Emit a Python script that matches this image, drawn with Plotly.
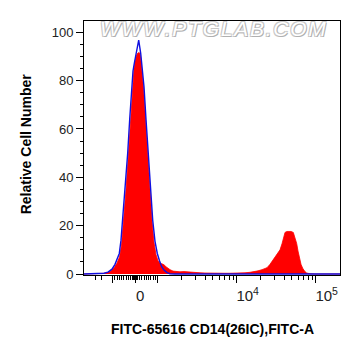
import math
import plotly.graph_objects as go

# ---------------- data (x in display channels of the biexponential scale, 0..256) ----------------
sample_channel = [0, 16, 21, 26, 30, 33, 35.5, 37.5, 39.5, 42, 44.5, 46.5, 48.5, 50, 51, 52.5, 54, 55.5,
                  56.5, 58, 59.5, 61.5, 63.5, 66, 68, 70, 72, 74, 76, 78, 80, 82, 84, 86, 89, 92, 96,
                  100, 104, 108, 112, 116, 121, 126, 131, 136, 141, 146, 151, 156, 161, 166, 170, 174,
                  178, 183, 186, 189, 192, 194, 196, 198, 199.5, 201, 203, 205, 207, 209.3, 211, 212.7,
                  214, 215.3, 217, 218.7, 220.5, 222.7, 226, 231, 256]
sample_count = [0, 0, 0.3, 1, 2.5, 4.5, 7, 12, 21, 35, 50, 64, 77, 85, 88, 90.5, 91.5, 91.5,
                90, 84, 77, 64, 50, 34, 22, 13, 8, 5.5, 4.4, 4.2, 3.8, 3, 2.2, 1.8, 1.2, 1.0, 0.9,
                1.0, 0.8, 0.9, 0.7, 0.5, 0.4, 0.3, 0.3, 0.3, 0.3, 0.3, 0.3, 0.4, 0.5, 0.7, 0.9, 1.3,
                1.8, 2.6, 4, 5.8, 7.3, 8.6, 10, 12.5, 14.5, 17.2, 17.6, 17.7, 17.6, 17.2, 15, 12.6,
                9.5, 6.5, 4, 2.4, 1.2, 0.4, 0.1, 0, 0]

control_channel = [0, 16, 20, 24, 28, 31, 33, 35.3, 37, 38.7, 41, 43.7, 45.7, 47.7, 49, 50.3, 52.5,
                   54.7, 56.7, 58.3, 60, 62, 64.3, 66.5, 68.7, 71, 73.3, 75.5, 77.7, 80, 83, 86, 91, 256]
control_count = [0, 0, 0.3, 0.8, 2, 4, 6, 8.5, 14, 22.3, 35, 50, 64, 77.5, 84, 87.2, 92,
                 96.8, 91.3, 85, 77.5, 64, 50, 36, 22.3, 13.5, 8.5, 5.5, 3, 1.6, 0.6, 0.1, 0, 0]

y_ticks = [0, 20, 40, 60, 80, 100]
x_major_values = [-1000, 0, 1000, 10000, 100000]
x_label_values = [0, 10000, 100000]
x_label_text = ["0", "10<sup>4</sup>", "10<sup>5</sup>"]

x_title = "FITC-65616 CD14(26IC),FITC-A"
y_title = "Relative Cell Number"
watermark = "WWW.PTGLAB.COM"

# ---------------- biexponential display scale ----------------
ZERO, LIN, DEC, NEGDEC = 51.2, 0.0225, 79.0, 36.0


def disp(v):
    if abs(v) <= 1000:
        return ZERO + v * LIN
    if v > 0:
        return ZERO + 1000 * LIN + DEC * math.log10(v / 1000)
    return ZERO - 1000 * LIN - NEGDEC * math.log10(-v / 1000)


major_pos = [disp(v) for v in x_major_values]
minor_vals = [k * 100 for k in range(-9, 10) if k != 0] + [-75, -50, -25, 25, 50, 75]
minor_vals += [-2000, -3000]
minor_vals += [m * 10 ** e for e in (3, 4) for m in range(2, 10)]
minor_pos = [disp(v) for v in minor_vals]
label_pos = [disp(0) + 5, disp(1e4) + 11, disp(1e5) + 11]

FONT = "Arial, Liberation Sans, sans-serif"
spaced_watermark = "\u200a".join(watermark)

fig = go.Figure()
fig.add_trace(go.Scatter(x=sample_channel, y=sample_count, mode="lines", fill="tozeroy",
                         fillcolor="#ff0000", line=dict(color="#ff0000", width=0.8),
                         hoverinfo="skip", showlegend=False))
fig.add_trace(go.Scatter(x=control_channel, y=control_count, mode="lines",
                         line=dict(color="#1010e0", width=1.4),
                         hoverinfo="skip", showlegend=False))
# invisible trace to activate the label axis
fig.add_trace(go.Scatter(x=[0], y=[0], xaxis="x2", mode="markers", marker=dict(opacity=0),
                         hoverinfo="skip", showlegend=False))

fig.update_layout(
    width=361, height=356,
    margin=dict(l=84, r=21, t=21, b=81),
    paper_bgcolor="white", plot_bgcolor="white",
    font=dict(family=FONT, size=13, color="#222222"),
    xaxis=dict(range=[0, 256], showgrid=False, zeroline=False, showline=True, linecolor="black",
               linewidth=1, mirror=True, ticks="outside", ticklen=7, tickwidth=1, tickcolor="black",
               tickvals=major_pos, showticklabels=False,
               minor=dict(tickvals=minor_pos, ticklen=4, tickwidth=1, tickcolor="black", ticks="outside")),
    xaxis2=dict(range=[0, 256], overlaying="x", side="bottom", showgrid=False, zeroline=False,
                showline=False, ticks="", tickvals=label_pos, ticktext=x_label_text,
                tickfont=dict(family=FONT, size=15, color="#222222"), ticklabelstandoff=10),
    yaxis=dict(range=[-0.414, 104.68], showgrid=False, zeroline=False, showline=True, linecolor="black",
               linewidth=1, mirror=True, ticks="outside", ticklen=7, tickwidth=1, tickcolor="black",
               tickvals=y_ticks, tickfont=dict(family=FONT, size=13, color="#222222"),
               minor=dict(dtick=5, ticklen=3, tickwidth=1, tickcolor="black", ticks="outside")),
    annotations=[
        dict(text=y_title, xref="paper", yref="paper", x=-0.2266, y=0.5185, xanchor="center",
             yanchor="middle", textangle=-90, showarrow=False,
             font=dict(family=FONT, size=14, color="black", weight="bold")),
        dict(text=x_title, xref="paper", yref="paper", x=0.502, y=-0.2126, xanchor="center",
             yanchor="middle", showarrow=False,
             font=dict(family=FONT, size=14, color="black", weight="bold")),
        dict(text=spaced_watermark, xref="paper", yref="paper", x=0.502, y=0.9724, xanchor="center",
             yanchor="middle", showarrow=False,
             font=dict(family=FONT, size=21, color="#ffffff", style="italic",
                       shadow="1px 1px 0px #b0b0b0, -1px -1px 0px #c8c8c8, 1px -1px 0px #c8c8c8, -1px 1px 0px #c8c8c8")),
    ],
)

fig.write_html("out.html", config={"displayModeBar": False},
               post_script="document.body.style.margin='0px';document.body.style.padding='0px';")
